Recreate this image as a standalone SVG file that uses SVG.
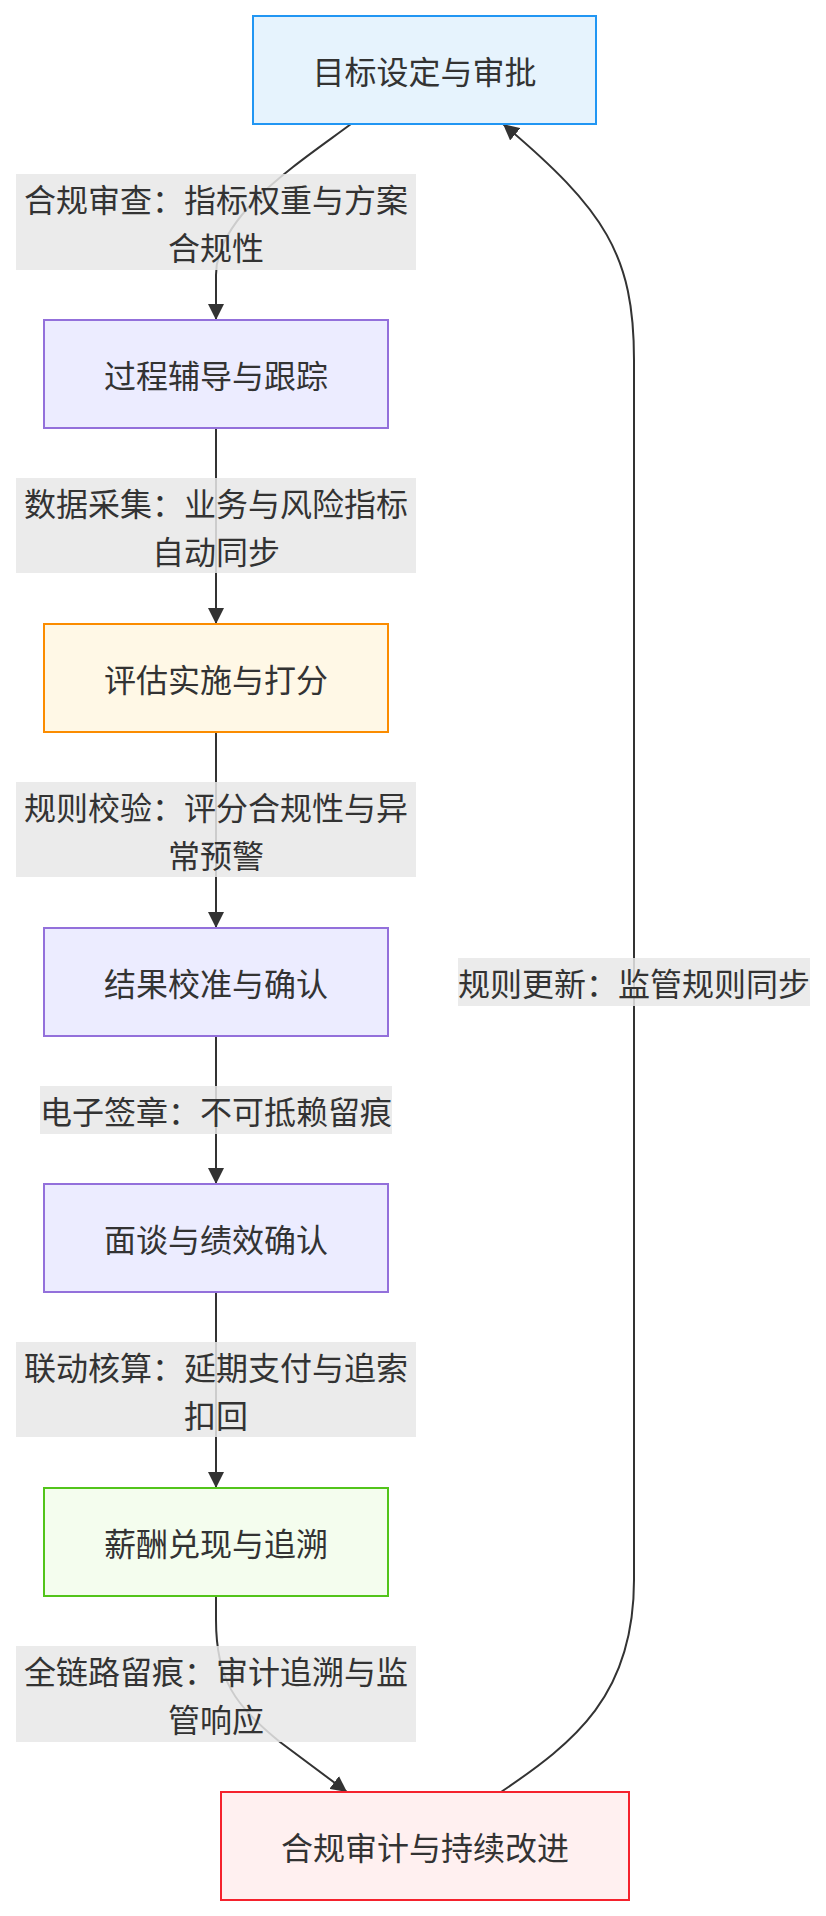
<svg xmlns="http://www.w3.org/2000/svg" width="826" height="1916" viewBox="0 0 826 1916">
<style>
text{font-family:"Noto Sans CJK SC","Noto Sans",sans-serif;font-size:32px;fill:#333;text-anchor:middle;dominant-baseline:central}
.edge{fill:none;stroke:#333;stroke-width:2}
.lbl{fill:#e8e8e8;fill-opacity:0.85}
.n rect{stroke-width:2}
.def rect{fill:#ECECFF;stroke:#9370DB}
</style>
<defs>
<marker id="arr" viewBox="0 0 10 10" refX="10" refY="5" markerUnits="userSpaceOnUse" markerWidth="16" markerHeight="16" orient="auto">
<path d="M0,0 L10,5 L0,10 z" fill="#333"/>
</marker>
</defs>
<rect width="826" height="1916" fill="#fff"/>
<g id="connectors">
<path class="edge" d="M351,124 C300,162 216,215 216,275 L216,320" marker-end="url(#arr)"/>
<path class="edge" d="M216,428 L216,624" marker-end="url(#arr)"/>
<path class="edge" d="M216,732 L216,928" marker-end="url(#arr)"/>
<path class="edge" d="M216,1036 L216,1184" marker-end="url(#arr)"/>
<path class="edge" d="M216,1292 L216,1488" marker-end="url(#arr)"/>
<path class="edge" d="M216,1596 L216,1620 C216,1680 235,1705 280,1742 L347,1792" marker-end="url(#arr)"/>
<path class="edge" d="M501,1792 C575,1742 634,1695 634,1580 L634,360 C634,255 605,210 503,124" marker-end="url(#arr)"/>
<g id="edge-labels">
<rect class="lbl" x="16" y="174" width="400" height="96"/>
<text x="216" y="198">合规审查：指标权重与方案</text>
<text x="216" y="246">合规性</text>
<rect class="lbl" x="16" y="478" width="400" height="95"/>
<text x="216" y="502">数据采集：业务与风险指标</text>
<text x="216" y="550">自动同步</text>
<rect class="lbl" x="16" y="782" width="400" height="95"/>
<text x="216" y="806">规则校验：评分合规性与异</text>
<text x="216" y="854">常预警</text>
<rect class="lbl" x="40" y="1086" width="352" height="48"/>
<text x="216" y="1110">电子签章：不可抵赖留痕</text>
<rect class="lbl" x="16" y="1342" width="400" height="95"/>
<text x="216" y="1366">联动核算：延期支付与追索</text>
<text x="216" y="1414">扣回</text>
<rect class="lbl" x="16" y="1646" width="400" height="96"/>
<text x="216" y="1670">全链路留痕：审计追溯与监</text>
<text x="216" y="1718">管响应</text>
<rect class="lbl" x="458" y="958" width="352" height="48"/>
<text x="634" y="982">规则更新：监管规则同步</text>
</g>
</g>
<g id="n1" class="n"><rect x="253" y="16" width="343" height="108" fill="#E6F3FD" stroke="#2196F3"/><text x="424.5" y="70">目标设定与审批</text></g>
<g id="n2" class="n def"><rect x="44" y="320" width="344" height="108"/><text x="216" y="374">过程辅导与跟踪</text></g>
<g id="n3" class="n"><rect x="44" y="624" width="344" height="108" fill="#FFF8E6" stroke="#FB8C00"/><text x="216" y="678">评估实施与打分</text></g>
<g id="n4" class="n def"><rect x="44" y="928" width="344" height="108"/><text x="216" y="982">结果校准与确认</text></g>
<g id="n5" class="n def"><rect x="44" y="1184" width="344" height="108"/><text x="216" y="1238">面谈与绩效确认</text></g>
<g id="n6" class="n"><rect x="44" y="1488" width="344" height="108" fill="#F4FDEE" stroke="#52C41A"/><text x="216" y="1542">薪酬兑现与追溯</text></g>
<g id="n7" class="n"><rect x="221" y="1792" width="408" height="108" fill="#FFF0F0" stroke="#F5222D"/><text x="425" y="1846">合规审计与持续改进</text></g>
</svg>
